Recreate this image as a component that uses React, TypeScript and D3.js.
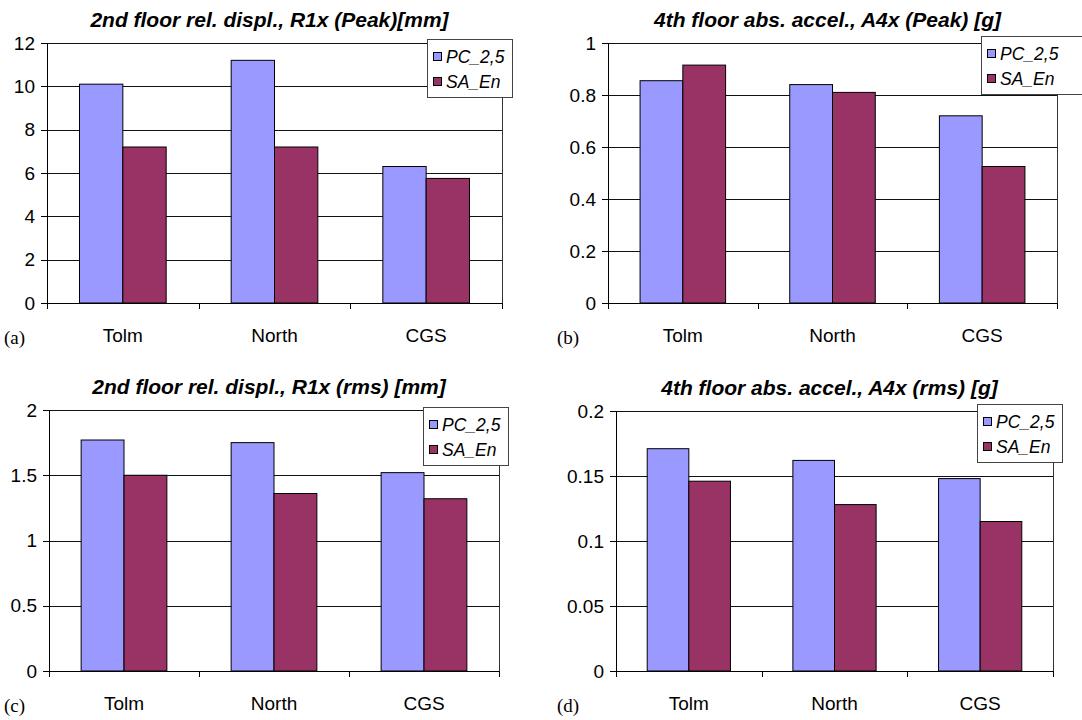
import React from "react";
import * as d3 from "d3";

// Station records and the two analysis variants
const categories = ["Tolm", "North", "CGS"];
const seriesNames = ["PC_2,5", "SA_En"];
const seriesColors = ["#9999FF", "#993366"];

// (a) 2nd floor relative displacement, peak [mm]
const peakDisplPC = [10.1, 11.2, 6.3];
const peakDisplSA = [7.2, 7.2, 5.75];
const peakDisplTicks = [0, 2, 4, 6, 8, 10, 12];

// (b) 4th floor absolute acceleration, peak [g]
const peakAccelPC = [0.855, 0.84, 0.72];
const peakAccelSA = [0.915, 0.81, 0.525];
const peakAccelTicks = [0, 0.2, 0.4, 0.6, 0.8, 1];

// (c) 2nd floor relative displacement, rms [mm]
const rmsDisplPC = [1.77, 1.75, 1.52];
const rmsDisplSA = [1.5, 1.36, 1.32];
const rmsDisplTicks = [0, 0.5, 1, 1.5, 2];

// (d) 4th floor absolute acceleration, rms [g]
const rmsAccelPC = [0.171, 0.162, 0.148];
const rmsAccelSA = [0.146, 0.128, 0.115];
const rmsAccelTicks = [0, 0.05, 0.1, 0.15, 0.2];

const SANS = "'Liberation Sans', Arial, sans-serif";
const SERIF = "'Liberation Serif', 'Times New Roman', serif";

type PanelProps = {
  title: string;
  tag: string;
  series: number[][];
  ticks: number[];
  x0: number;
  x1: number;
  yTop: number;
  yBottom: number;
  titleY: number;
  legendX: number;
  legendY: number;
  legendW: number;
  tagX: number;
};

function Panel(p: PanelProps) {
  const yMax = p.ticks[p.ticks.length - 1];
  const y = d3.scaleLinear().domain([0, yMax]).range([p.yBottom, p.yTop]);
  const x = d3.scaleBand<string>().domain(categories).range([p.x0, p.x1]).padding(0);
  const step = x.bandwidth();
  const bw = step / 3.5;
  const xs = d3
    .scaleBand<string>()
    .domain(seriesNames)
    .range([0.75 * bw, 2.75 * bw])
    .padding(0);
  const fmt = (v: number) => String(+v.toFixed(3));
  const boundaries = [p.x0, ...categories.map((c) => (x(c) as number) + step)];
  const midX = (p.x0 + p.x1) / 2;
  const legendH = 58;

  return (
    <g>
      <text
        x={midX - 5}
        y={p.titleY}
        textAnchor="middle"
        fontFamily={SANS}
        fontSize={21}
        fontWeight="bold"
        fontStyle="italic"
        fill="#000"
      >
        {p.title}
      </text>

      {/* gridlines */}
      {p.ticks.map((t) => (
        <line
          key={"g" + t}
          x1={p.x0}
          x2={p.x1}
          y1={Math.round(y(t)) + 0.5}
          y2={Math.round(y(t)) + 0.5}
          stroke="#111"
          strokeWidth={1}
        />
      ))}
      {/* right border */}
      <line
        x1={p.x1 + 0.5}
        x2={p.x1 + 0.5}
        y1={p.yTop}
        y2={p.yBottom}
        stroke="#333"
        strokeWidth={1}
      />

      {/* bars */}
      {p.series.map((vals, si) =>
        vals.map((v, ci) => {
          const bx = (x(categories[ci]) as number) + (xs(seriesNames[si]) as number);
          const top = y(v);
          return (
            <rect
              key={"b" + si + ci}
              x={bx}
              y={top}
              width={xs.bandwidth()}
              height={p.yBottom - top}
              fill={seriesColors[si]}
              stroke="#000"
              strokeWidth={1}
            />
          );
        })
      )}

      {/* y axis */}
      <line x1={p.x0 + 0.5} x2={p.x0 + 0.5} y1={p.yTop} y2={p.yBottom} stroke="#000" />
      {p.ticks.map((t) => (
        <g key={"t" + t}>
          <line
            x1={p.x0 - 6}
            x2={p.x0}
            y1={Math.round(y(t)) + 0.5}
            y2={Math.round(y(t)) + 0.5}
            stroke="#000"
          />
          <text
            x={p.x0 - 12}
            y={y(t)}
            dy="0.35em"
            textAnchor="end"
            fontFamily={SANS}
            fontSize={19}
            fill="#000"
          >
            {fmt(t)}
          </text>
        </g>
      ))}

      {/* x axis */}
      <line
        x1={p.x0}
        x2={p.x1 + 1}
        y1={Math.round(p.yBottom) + 0.5}
        y2={Math.round(p.yBottom) + 0.5}
        stroke="#000"
      />
      {boundaries.map((bx, i) => (
        <line
          key={"xt" + i}
          x1={Math.round(bx) + 0.5}
          x2={Math.round(bx) + 0.5}
          y1={p.yBottom}
          y2={p.yBottom + 6}
          stroke="#000"
        />
      ))}
      {categories.map((c) => (
        <text
          key={"c" + c}
          x={(x(c) as number) + step / 2}
          y={p.yBottom + 32}
          dy="0.35em"
          textAnchor="middle"
          fontFamily={SANS}
          fontSize={19}
          fill="#000"
        >
          {c}
        </text>
      ))}

      {/* panel tag */}
      <text
        x={p.tagX}
        y={p.yBottom + 34}
        dy="0.35em"
        fontFamily={SERIF}
        fontSize={19}
        fill="#000"
      >
        {p.tag}
      </text>

      {/* legend */}
      <rect
        x={p.legendX + 0.5}
        y={p.legendY + 0.5}
        width={p.legendW}
        height={legendH}
        fill="#fff"
        stroke="#444"
        strokeWidth={1}
      />
      {seriesNames.map((s, i) => {
        const cy = p.legendY + 18 + i * 25;
        return (
          <g key={"l" + s}>
            <rect
              x={p.legendX + 6.5}
              y={cy - 4.5}
              width={8}
              height={8}
              fill={seriesColors[i]}
              stroke="#000"
              strokeWidth={1}
            />
            <text
              x={p.legendX + 19}
              y={cy}
              dy="0.35em"
              fontFamily={SANS}
              fontSize={17.5}
              fontStyle="italic"
              fill="#000"
            >
              {s}
            </text>
          </g>
        );
      })}
    </g>
  );
}

export default function App() {
  return (
    <svg
      width={1082}
      height={720}
      viewBox="0 0 1082 720"
      style={{ position: "absolute", left: 0, top: 0, background: "#fff", display: "block" }}
    >
      <rect x={0} y={0} width={1082} height={720} fill="#fff" />
      <Panel
        title="2nd floor rel. displ., R1x (Peak)[mm]"
        tag="(a)"
        series={[peakDisplPC, peakDisplSA]}
        ticks={peakDisplTicks}
        x0={47}
        x1={502}
        yTop={43}
        yBottom={303}
        titleY={27}
        legendX={427}
        legendY={39}
        legendW={85}
        tagX={4}
      />
      <Panel
        title="4th floor abs. accel., A4x (Peak) [g]"
        tag="(b)"
        series={[peakAccelPC, peakAccelSA]}
        ticks={peakAccelTicks}
        x0={608}
        x1={1057}
        yTop={43}
        yBottom={303}
        titleY={27}
        legendX={981}
        legendY={36}
        legendW={110}
        tagX={557}
      />
      <Panel
        title="2nd floor rel. displ., R1x (rms) [mm]"
        tag="(c)"
        series={[rmsDisplPC, rmsDisplSA]}
        ticks={rmsDisplTicks}
        x0={49}
        x1={499}
        yTop={410}
        yBottom={671}
        titleY={394}
        legendX={423}
        legendY={407}
        legendW={85}
        tagX={4}
      />
      <Panel
        title="4th floor abs. accel., A4x (rms) [g]"
        tag="(d)"
        series={[rmsAccelPC, rmsAccelSA]}
        ticks={rmsAccelTicks}
        x0={616}
        x1={1053}
        yTop={411}
        yBottom={671}
        titleY={395}
        legendX={977}
        legendY={404}
        legendW={85}
        tagX={557}
      />
    </svg>
  );
}
